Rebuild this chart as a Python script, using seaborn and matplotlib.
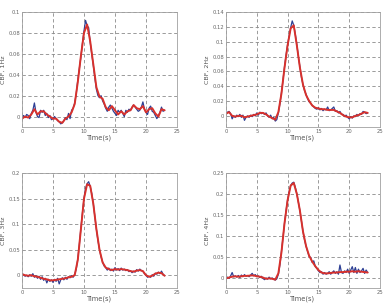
import numpy as np
import pandas as pd
import matplotlib
matplotlib.use("Agg")
import matplotlib.pyplot as plt
import seaborn as sns

sns.set_style("white")
plt.rcParams['font.family'] = ['DejaVu Sans']

time_raw = np.arange(0, 23.01, 0.25)
time_smooth = np.arange(0, 23.01, 0.5)

raw_1hz = [-0.002, 0.001, -0.001, 0.002, 0.001, -0.002, 0.003, 0.006, 0.013, 0.004,
           0.000, -0.001, 0.006, 0.004, 0.006, 0.001, 0.003, -0.001, 0.001, -0.003,
           -0.002, 0.000, -0.002, -0.004, -0.005, -0.007, -0.006, -0.004, -0.001, -0.003,
           0.003, -0.002, 0.006, 0.008, 0.013, 0.022, 0.035, 0.046, 0.057, 0.070,
           0.082, 0.092, 0.087, 0.085, 0.071, 0.060, 0.049, 0.037, 0.026, 0.020,
           0.018, 0.020, 0.015, 0.012, 0.008, 0.005, 0.009, 0.011, 0.008, 0.005,
           0.003, 0.001, 0.006, 0.004, 0.006, 0.003, 0.000, 0.006, 0.004, 0.007,
           0.006, 0.009, 0.011, 0.009, 0.007, 0.005, 0.006, 0.009, 0.014, 0.007,
           0.004, 0.002, 0.008, 0.010, 0.005, 0.004, 0.001, -0.002, 0.001, 0.004,
           0.009, 0.005, 0.006]
smooth_1hz = [-0.002, 0.000, -0.001, 0.002, 0.007, 0.002, 0.005, 0.005, 0.002, 0.000,
              -0.002, -0.002, -0.005, -0.006, -0.002, 0.000, 0.004, 0.012, 0.033, 0.058,
              0.080, 0.088, 0.072, 0.050, 0.028, 0.019, 0.017, 0.009, 0.006, 0.010,
              0.006, 0.002, 0.005, 0.002, 0.005, 0.006, 0.011, 0.008, 0.007, 0.010,
              0.004, 0.007, 0.008, 0.003, 0.000, 0.007, 0.006]

raw_2hz = [0.003, 0.005, 0.006, 0.003, -0.004, 0.000, -0.002, 0.001, -0.001, 0.002,
           -0.002, 0.001, -0.006, -0.002, 0.000, -0.002, 0.001, -0.001, 0.002, 0.000,
           0.004, 0.001, 0.005, 0.003, 0.004, 0.002, 0.004, 0.000, -0.002, 0.001,
           -0.004, -0.002, -0.007, -0.005, 0.004, 0.016, 0.031, 0.048, 0.066, 0.082,
           0.096, 0.108, 0.119, 0.128, 0.122, 0.110, 0.096, 0.080, 0.066, 0.052,
           0.042, 0.034, 0.029, 0.023, 0.019, 0.017, 0.014, 0.012, 0.010, 0.009,
           0.011, 0.008, 0.010, 0.007, 0.009, 0.008, 0.012, 0.007, 0.008, 0.010,
           0.012, 0.006, 0.007, 0.004, 0.006, 0.002, 0.002, -0.001, 0.001, -0.002,
           -0.004, -0.001, -0.003, 0.000, -0.001, 0.002, 0.000, 0.003, 0.002, 0.006,
           0.005, 0.003, 0.004]
smooth_2hz = [0.003, 0.005, 0.000, -0.001, 0.000, 0.000, -0.002, -0.001, 0.000, 0.001,
              0.002, 0.004, 0.004, 0.002, -0.001, -0.003, -0.005, 0.005, 0.030, 0.065,
              0.095, 0.118, 0.122, 0.095, 0.065, 0.042, 0.028, 0.020, 0.014, 0.011,
              0.010, 0.009, 0.009, 0.008, 0.008, 0.008, 0.006, 0.004, 0.001, -0.001,
              -0.002, -0.002, 0.000, 0.001, 0.003, 0.005, 0.004]

raw_3hz = [0.003, 0.001, -0.002, 0.000, -0.003, 0.001, -0.002, 0.003, -0.004, -0.001,
           -0.006, -0.002, -0.008, -0.003, -0.010, -0.006, -0.015, -0.008, -0.012, -0.009,
           -0.014, -0.008, -0.012, -0.006, -0.017, -0.009, -0.005, -0.009, -0.004, -0.008,
           -0.003, -0.005, -0.001, -0.004, 0.002, 0.012, 0.032, 0.060, 0.092, 0.122,
           0.150, 0.170, 0.179, 0.183, 0.174, 0.160, 0.140, 0.115, 0.090, 0.068,
           0.050, 0.036, 0.026, 0.018, 0.015, 0.010, 0.014, 0.009, 0.012, 0.008,
           0.015, 0.010, 0.013, 0.009, 0.014, 0.010, 0.012, 0.009, 0.011, 0.007,
           0.009, 0.005, 0.008, 0.006, 0.011, 0.008, 0.012, 0.009, 0.008, 0.003,
           0.000, -0.004, -0.002, -0.004, 0.001, -0.002, 0.004, 0.002, 0.006, 0.003,
           0.008, 0.002, -0.001]
smooth_3hz = [0.002, 0.000, -0.001, 0.000, -0.002, -0.003, -0.005, -0.007, -0.008, -0.010,
              -0.010, -0.009, -0.008, -0.007, -0.006, -0.004, -0.003, 0.000, 0.030, 0.090,
              0.150, 0.178, 0.175, 0.140, 0.090, 0.050, 0.025, 0.015, 0.012, 0.010,
              0.012, 0.011, 0.012, 0.011, 0.010, 0.008, 0.007, 0.009, 0.010, 0.008,
              0.000, -0.003, -0.001, 0.003, 0.005, 0.004, -0.001]

raw_4hz = [-0.003, 0.001, -0.002, 0.004, 0.012, 0.002, 0.004, 0.001, 0.005, 0.000,
           0.006, 0.002, 0.007, 0.003, 0.005, 0.002, 0.006, 0.010, 0.004, 0.007,
           0.002, 0.004, 0.000, 0.003, -0.002, -0.005, -0.001, -0.004, 0.001, -0.003,
           -0.001, -0.004, -0.006, -0.003, 0.008, 0.030, 0.062, 0.095, 0.130, 0.160,
           0.186, 0.205, 0.220, 0.226, 0.228, 0.216, 0.200, 0.180, 0.160, 0.135,
           0.110, 0.090, 0.075, 0.062, 0.050, 0.048, 0.036, 0.040, 0.026, 0.022,
           0.016, 0.012, 0.014, 0.008, 0.012, 0.008, 0.010, 0.014, 0.008, 0.012,
           0.016, 0.010, 0.014, 0.008, 0.030, 0.012, 0.010, 0.016, 0.012, 0.020,
           0.010, 0.018, 0.026, 0.012, 0.024, 0.010, 0.020, 0.012, 0.016, 0.022,
           0.010, 0.018, 0.012]
smooth_4hz = [-0.002, 0.000, 0.002, 0.003, 0.002, 0.003, 0.004, 0.004, 0.005, 0.005,
              0.003, 0.002, 0.000, -0.003, -0.002, -0.003, -0.005, 0.010, 0.060, 0.130,
              0.185, 0.220, 0.226, 0.200, 0.160, 0.110, 0.075, 0.052, 0.038, 0.027,
              0.018, 0.012, 0.010, 0.010, 0.011, 0.012, 0.012, 0.013, 0.013, 0.014,
              0.014, 0.015, 0.014, 0.015, 0.014, 0.013, 0.012]

y_labels = ["CBF, 1Hz", "CBF, 2Hz", "CBF, 3Hz", "CBF, 4Hz"]
y_limits = [(-0.01, 0.1), (-0.015, 0.14), (-0.025, 0.2), (-0.025, 0.25)]
y_ticks = [[0, 0.02, 0.04, 0.06, 0.08, 0.1],
           [0, 0.02, 0.04, 0.06, 0.08, 0.1, 0.12, 0.14],
           [0, 0.05, 0.1, 0.15, 0.2],
           [0, 0.05, 0.1, 0.15, 0.2, 0.25]]
x_ticks = [0, 5, 10, 15, 20, 25]

raws = [raw_1hz, raw_2hz, raw_3hz, raw_4hz]
smooths = [smooth_1hz, smooth_2hz, smooth_3hz, smooth_4hz]

fig = plt.figure(figsize=(3.89, 3.04), dpi=100)
positions = [
    [22/389, 1-127/304, 155/389, 115/304],
    [226/389, 1-127/304, 154/389, 115/304],
    [22/389, 1-288/304, 155/389, 115/304],
    [226/389, 1-288/304, 154/389, 115/304],
]

for i in range(4):
    ax = fig.add_axes(positions[i])
    n = min(len(raws[i]), len(time_raw))
    m = min(len(smooths[i]), len(time_smooth))
    df_raw = pd.DataFrame({"t": time_raw[:n], "v": raws[i][:n]})
    df_sm = pd.DataFrame({"t": time_smooth[:m], "v": smooths[i][:m]})
    sns.lineplot(data=df_raw, x="t", y="v", ax=ax, color="#2d3f94", linewidth=0.9)
    sns.lineplot(data=df_sm, x="t", y="v", ax=ax, color="#d8312c", linewidth=1.4)
    ax.set_xlim(0, 25)
    ax.set_ylim(*y_limits[i])
    ax.set_xticks(x_ticks)
    ax.set_yticks(y_ticks[i])
    ax.set_yticklabels(['%g' % v for v in y_ticks[i]])
    ax.grid(True, linestyle=(0, (4, 3)), color="#8a8a8a", linewidth=0.6)
    ax.set_axisbelow(True)
    for sp in ax.spines.values():
        sp.set_color("#a0a0a0")
        sp.set_linewidth(0.6)
    ax.tick_params(axis="both", labelsize=3.8, colors="#666666", length=1.5,
                   width=0.5, direction="in", pad=1.5)
    ax.set_xlabel("Time(s)", fontsize=4.8, color="#555555", labelpad=0.5)
    ax.set_ylabel(y_labels[i], fontsize=4.6, color="#555555", labelpad=1.5)

fig.savefig("out.png", dpi=100)
